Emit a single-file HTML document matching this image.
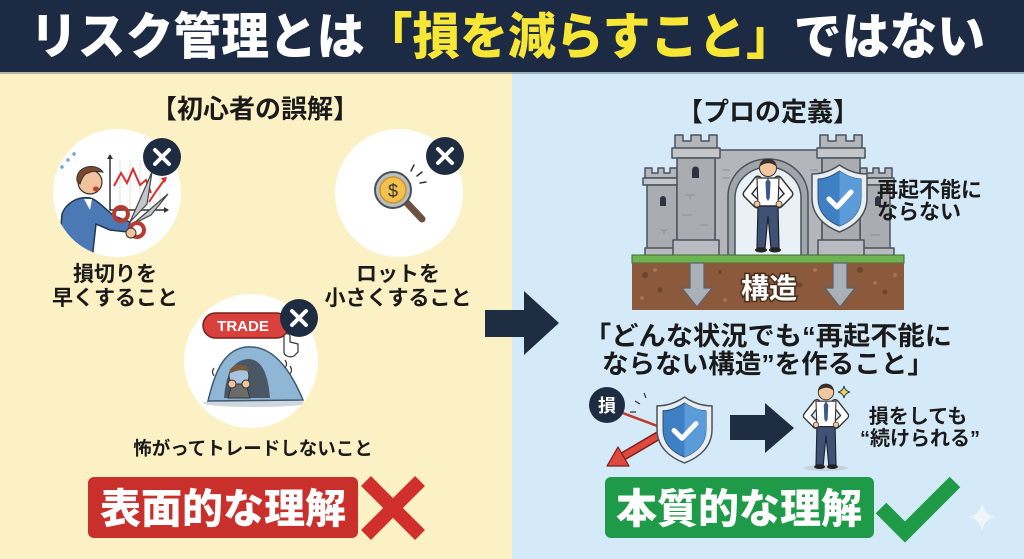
<!DOCTYPE html>
<html><head><meta charset="utf-8">
<style>
html,body{margin:0;padding:0;width:1024px;height:559px;overflow:hidden;background:#fcf1c5;}
svg{display:block;}
text{font-family:"Liberation Sans","Noto Sans CJK JP",sans-serif;font-weight:700;}
.heavy{font-weight:900;}
</style></head><body>
<svg width="1024" height="559" viewBox="0 0 1024 559" xmlns="http://www.w3.org/2000/svg">
<defs>
<clipPath id="c1"><circle cx="117" cy="193" r="64"/></clipPath>
<clipPath id="c3"><circle cx="251" cy="361" r="67"/></clipPath>
</defs>
<!-- backgrounds -->
<rect x="0" y="0" width="512" height="559" fill="#fcf1c5"/>
<rect x="512" y="0" width="512" height="559" fill="#d5eaf8"/>
<rect x="0" y="0" width="1024" height="72" fill="#1c2a43"/>
<rect x="0" y="72" width="1024" height="2" fill="#3a4a60" opacity=".35"/>

<!-- title -->
<text class="heavy" x="30" y="54" font-size="50" textLength="955" lengthAdjust="spacingAndGlyphs" fill="#ffffff">リスク管理とは<tspan fill="#f8e637">「損を減らすこと」</tspan>ではない</text>

<!-- LEFT PANEL -->
<text x="255" y="118" font-size="26" text-anchor="middle" fill="#1a1a1a">【初心者の誤解】</text>

<!-- circle 1 -->
<circle cx="117" cy="193" r="64" fill="#ffffff"/>
<g clip-path="url(#c1)">
  <g stroke="#dde1e6" stroke-width="1">
    <line x1="120" y1="160" x2="120" y2="210"/><line x1="130" y1="160" x2="130" y2="210"/>
    <line x1="140" y1="160" x2="140" y2="210"/><line x1="150" y1="160" x2="150" y2="210"/>
    <line x1="160" y1="160" x2="160" y2="210"/>
  </g>
  <path d="M110 155 V210 H168" stroke="#333" stroke-width="1.5" fill="none"/>
  <path d="M107 159 L110 154 L113 159 Z M164 207 L169 210 L164 213 Z" fill="#333"/>
  <polyline points="114,186 121,173 127,183 133,169 140,185 146,180 151,193" stroke="#d9302c" stroke-width="2" fill="none"/>
  <polyline points="149,202 157,190 165,179" stroke="#d9302c" stroke-width="2" fill="none"/>
  <path d="M161 178 L167 177 L165 183 Z" fill="#d9302c"/>
  <!-- person -->
  <path d="M58 260 L62 214 C66 203 78 196 90 198 C98 200 106 210 114 216 L130 222 L128 232 L110 230 L96 224 L92 260 Z" fill="#4a79b5" stroke="#24374f" stroke-width="1.5"/>
  <path d="M84 199 L92 199 L90 210 Z" fill="#fff"/>
  <circle cx="90" cy="182" r="12" fill="#f1c29b" stroke="#333" stroke-width="1.2"/>
  <path d="M77 181 C75 166 96 162 103 172 C99 172 94 170 88 173 C84 174 82 178 80 184 Z" fill="#7a4a2a" stroke="#333" stroke-width="1"/>
  <ellipse cx="96" cy="189" rx="3" ry="2.5" fill="#c0392b"/>
  <path d="M66 160 q2 -4 4 0 q-2 4 -4 0 M72 154 q2 -4 4 0 q-2 4 -4 0 M60 167 q2 -4 4 0 q-2 4 -4 0" fill="#6fa8dc"/>
  <!-- scissors -->
  <path d="M130 222 L152 172 L147 204 Z" fill="#c2c7cd" stroke="#444" stroke-width="1.2"/>
  <path d="M133 224 L168 194 L151 215 Z" fill="#c2c7cd" stroke="#444" stroke-width="1.2"/>
  <circle cx="121" cy="214" r="7" fill="none" stroke="#b93a32" stroke-width="4"/>
  <circle cx="137" cy="230" r="7" fill="none" stroke="#b93a32" stroke-width="4"/>
  <circle cx="131" cy="233" r="5" fill="#f1c29b" stroke="#333" stroke-width="1"/>
</g>
<circle cx="162" cy="157" r="19" fill="#1e2c42"/>
<path d="M155 150 L169 164 M169 150 L155 164" stroke="#fff" stroke-width="4" stroke-linecap="round"/>

<!-- circle 2 -->
<circle cx="399" cy="193" r="64" fill="#ffffff"/>
<line x1="406" y1="202" x2="422" y2="219" stroke="#6b5240" stroke-width="7" stroke-linecap="round"/>
<circle cx="393" cy="190" r="18" fill="#b9bec4" stroke="#4a4f57" stroke-width="2"/>
<circle cx="393" cy="190" r="13" fill="#f4c04e" stroke="#c9952a" stroke-width="1.5"/>
<text x="393" y="197" font-size="18" text-anchor="middle" fill="#333" style="font-weight:400">$</text>
<path d="M411 171 L414 165 M417 176 L422 172 M420 183 L426 182" stroke="#333" stroke-width="1.5" stroke-linecap="round"/>
<circle cx="445" cy="156" r="19" fill="#1e2c42"/>
<path d="M438 149 L452 163 M452 149 L438 163" stroke="#fff" stroke-width="4" stroke-linecap="round"/>

<text x="115" y="281" font-size="21" text-anchor="middle" fill="#1a1a1a">損切りを</text>
<text x="115" y="305" font-size="21" text-anchor="middle" fill="#1a1a1a">早くすること</text>
<text x="398" y="281" font-size="21" text-anchor="middle" fill="#1a1a1a">ロットを</text>
<text x="398" y="305" font-size="21" text-anchor="middle" fill="#1a1a1a">小さくすること</text>

<!-- circle 3 -->
<circle cx="251" cy="361" r="67" fill="#ffffff"/>
<g clip-path="url(#c3)">
  <ellipse cx="255" cy="403" rx="52" ry="4" fill="#cfd6dc"/>
  <path d="M208 401 C214 376 222 350 246 347 C270 345 288 364 303 400 Z" fill="#8fb6d4" stroke="#3d5a74" stroke-width="1.5"/>
  <path d="M224 398 C226 372 234 360 248 359 C262 359 268 374 270 398 Z" fill="#4a5866"/>
  <circle cx="239" cy="376" r="10" fill="#a9c4df" stroke="#333" stroke-width="1"/>
  <path d="M229 374 C229 362 249 362 249 372 C243 369 236 370 229 374 Z" fill="#7a5a3e"/>
  <path d="M228 398 L232 384 L246 384 L250 398 Z" fill="#6b6b6b" stroke="#333" stroke-width="1"/>
  <circle cx="232" cy="384" r="4" fill="#f1c29b" stroke="#333" stroke-width="1"/>
  <circle cx="246" cy="384" r="4" fill="#f1c29b" stroke="#333" stroke-width="1"/>
  <path d="M214 368 q-3 4 0 8 M285 360 q3 4 0 8 M290 366 q3 4 0 8" stroke="#333" stroke-width="1.2" fill="none"/>
</g>
<rect x="203" y="313" width="86" height="25" rx="12.5" fill="#d8413c" stroke="#7a1f1c" stroke-width="1.5"/>
<text x="243" y="331" font-size="15" fill="#fff" text-anchor="middle">TRADE</text>
<path d="M284 336 L284 352 C284 356 290 358 294 356 L298 352 L298 344 L290 342 L290 336 C290 333 284 333 284 336 Z" fill="#fff" stroke="#333" stroke-width="1.2"/>
<circle cx="299" cy="318" r="19" fill="#1e2c42"/>
<path d="M292 311 L306 325 M306 311 L292 325" stroke="#fff" stroke-width="4" stroke-linecap="round"/>

<text x="253" y="455" font-size="18.5" text-anchor="middle" fill="#1a1a1a">怖がってトレードしないこと</text>

<!-- red box -->
<rect x="88" y="477" width="270" height="61" rx="6" fill="#c9302c"/>
<text class="heavy" x="223" y="523" font-size="41" text-anchor="middle" fill="#fff">表面的な理解</text>
<path d="M366 481 L420 535 M420 481 L366 535" stroke="#d12f2c" stroke-width="14"/>

<!-- middle arrow -->
<polygon points="485,310 524,310 524,291 559,323 524,355 524,337 485,337" fill="#1f2d42"/>

<!-- RIGHT PANEL -->
<text x="768" y="121" font-size="26" text-anchor="middle" fill="#1a1a1a">【プロの定義】</text>

<!-- castle -->
<g stroke="#4b525b" stroke-width="1.5" stroke-linejoin="round">
  <path d="M860 178 V168 H867 V173 H873 V168 H879 V173 H885 V168 H892 V178 Z" fill="#b3b7bc"/>
  <rect x="858" y="178" width="36" height="7" fill="#c3c7cc"/>
  <rect x="860" y="185" width="30" height="65" fill="#a9adb2"/>
  <rect x="858" y="248" width="36" height="9" fill="#b8bcc1"/>
  <path d="M645 178 V168 H652 V173 H658 V168 H664 V173 H670 V168 H677 V178 Z" fill="#b3b7bc"/>
  <rect x="643" y="178" width="36" height="7" fill="#c3c7cc"/>
  <rect x="647" y="185" width="30" height="65" fill="#a9adb2"/>
  <rect x="645" y="248" width="34" height="9" fill="#b8bcc1"/>
  <rect x="715" y="150" width="107" height="107" fill="#b3b7bc"/>
  <path d="M728 257 V196 A40 37 0 0 1 808 196 V257 Z" fill="#a0a5ab"/>
  <path d="M735 257 V198 A33 31 0 0 1 801 198 V257 Z" fill="#e9f1f7"/>
  <path d="M675 150 V135 H683 V141 H691 V135 H701 V141 H709 V135 H717 V150 Z" fill="#b3b7bc"/>
  <rect x="672" y="148" width="48" height="10" fill="#c3c7cc"/>
  <rect x="677" y="158" width="38" height="84" fill="#a9adb2"/>
  <rect x="673" y="240" width="46" height="17" fill="#b8bcc1"/>
  <path d="M820 150 V135 H828 V141 H836 V135 H846 V141 H854 V135 H862 V150 Z" fill="#b3b7bc"/>
  <rect x="817" y="148" width="48" height="10" fill="#c3c7cc"/>
  <rect x="822" y="158" width="38" height="84" fill="#a9adb2"/>
  <rect x="818" y="240" width="46" height="17" fill="#b8bcc1"/>
</g>
<g fill="#2c3440">
  <path d="M692 178 V170 A3.5 3.5 0 0 1 699 170 V178 Z"/>
  <path d="M660 206 V199 A3 3 0 0 1 666 199 V206 Z"/>
  <path d="M875 206 V199 A3 3 0 0 1 881 199 V206 Z"/>
</g>
<g stroke="#8a9097" stroke-width="1" fill="none">
  <path d="M685 195 h10 M690 195 v4 M682 215 h10 M700 225 h8 M722 170 h8 M722 178 h8 M810 170 h8 M660 230 h8 M664 230 v4 M830 215 h10 M870 235 h10"/>
</g>
<!-- man in castle -->
<g transform="translate(768,158)">
  <path d="M-10 22 L-21 36 L-11 46" stroke="#333" stroke-width="9" fill="none" stroke-linejoin="round" stroke-linecap="round"/>
  <path d="M10 22 L21 36 L11 46" stroke="#333" stroke-width="9" fill="none" stroke-linejoin="round" stroke-linecap="round"/>
  <path d="M-10 22 L-21 36 L-11 46" stroke="#fff" stroke-width="6" fill="none" stroke-linejoin="round" stroke-linecap="round"/>
  <path d="M10 22 L21 36 L11 46" stroke="#fff" stroke-width="6" fill="none" stroke-linejoin="round" stroke-linecap="round"/>
  <path d="M-11 20 H11 L10 48 H-10 Z" fill="#fff" stroke="#333" stroke-width="1.2"/>
  <polygon points="0,20 2.5,24 1.8,40 0,43 -1.8,40 -2.5,24" fill="#3a5a85"/>
  <path d="M-10 48 H10 L11 90 H3 L0 58 L-3 90 H-11 Z" fill="#3d5275" stroke="#222" stroke-width="1.2"/>
  <ellipse cx="-7" cy="92" rx="6" ry="2.5" fill="#222"/>
  <ellipse cx="7" cy="92" rx="6" ry="2.5" fill="#222"/>
  <circle cx="-11" cy="46" r="3" fill="#f2c7a0" stroke="#333" stroke-width="0.8"/>
  <circle cx="11" cy="46" r="3" fill="#f2c7a0" stroke="#333" stroke-width="0.8"/>
  <circle cx="0" cy="10" r="8.5" fill="#f2c7a0" stroke="#333" stroke-width="1"/>
  <path d="M-8.5 9 C-9 -2 9 -2 8.5 9 C5 4 -4 4 -8.5 9 Z" fill="#3a2f2a"/>
</g>
<!-- castle shield -->
<g transform="translate(812,165)" stroke-linejoin="round">
  <path d="M27.5 0 C36 6 46 9 55 9 V33 C55 50 43 61 27.5 67 C12 61 0 50 0 33 V9 C9 9 19 6 27.5 0 Z" fill="#e9eef2" stroke="#4b525b" stroke-width="1.5"/>
  <path d="M27.5 6 C35 11 43 14 49 14 V33 C49 47 40 56 27.5 61 C15 56 6 47 6 33 V14 C12 14 20 11 27.5 6 Z" fill="#3f7fc4" stroke="#2a4f7a" stroke-width="1"/>
  <path d="M27.5 6 C35 11 43 14 49 14 V33 C49 47 40 56 27.5 61 Z" fill="#5b9bd8"/>
  <polyline points="17,34 25,42 39,27" fill="none" stroke="#fff" stroke-width="5" stroke-linecap="round" stroke-linejoin="round"/>
</g>
<text x="877" y="197" font-size="21" fill="#1a1a1a">再起不能に</text>
<text x="877" y="219" font-size="21" fill="#1a1a1a">ならない</text>
<!-- ground -->
<rect x="632" y="255" width="272" height="8" fill="#6db34f" stroke="#3d6b34" stroke-width="1"/>
<rect x="632" y="263" width="272" height="47" fill="#8b5a3c"/>
<g fill="#6e4530">
  <circle cx="645" cy="275" r="3"/><circle cx="660" cy="290" r="2.5"/><circle cx="720" cy="272" r="2"/>
  <circle cx="800" cy="285" r="2.5"/><circle cx="860" cy="270" r="3"/><circle cx="885" cy="292" r="2.5"/>
</g>
<g fill="#a8744f">
  <circle cx="655" cy="270" r="2"/><circle cx="642" cy="298" r="2"/><circle cx="725" cy="300" r="2"/>
  <circle cx="815" cy="270" r="2"/><circle cx="875" cy="283" r="2"/><circle cx="895" cy="275" r="2"/>
</g>
<g fill="#aab0b7" stroke="#5a616a" stroke-width="1.2" stroke-linejoin="round">
  <polygon points="690,263 704,263 704,288 712,288 697,307 682,288 690,288"/>
  <polygon points="833,263 847,263 847,288 855,288 840,307 825,288 833,288"/>
</g>
<text x="769" y="298" font-size="28" text-anchor="middle" fill="#fff" stroke="#4a2e1c" stroke-width="3" paint-order="stroke">構造</text>

<!-- quote -->
<text x="584" y="345" font-size="26" textLength="368" lengthAdjust="spacingAndGlyphs" fill="#1a1a1a">「どんな状況でも“再起不能に</text>
<text x="602" y="373" font-size="26" textLength="332" lengthAdjust="spacingAndGlyphs" fill="#1a1a1a">ならない構造”を作ること」</text>

<!-- bottom illustration -->
<line x1="620" y1="412" x2="668" y2="430" stroke="#c0392b" stroke-width="2.5"/>
<circle cx="607" cy="405" r="18" fill="#1e2c42"/>
<text x="607" y="412" font-size="18" text-anchor="middle" fill="#fff">損</text>
<path d="M640 404 l-5 -3 M646 398 l-2 -5 M636 412 l-6 0" stroke="#333" stroke-width="1.2"/>
<line x1="668" y1="430" x2="622" y2="457" stroke="#7a1f1c" stroke-width="9"/>
<line x1="668" y1="430" x2="622" y2="457" stroke="#e0483d" stroke-width="6"/>
<polygon points="607,466 629,466 618,447" fill="#e0483d" stroke="#7a1f1c" stroke-width="1.2" stroke-linejoin="round"/>
<g transform="translate(657,397) scale(1,0.985)" stroke-linejoin="round">
  <path d="M27.5 0 C36 6 46 9 55 9 V33 C55 50 43 61 27.5 67 C12 61 0 50 0 33 V9 C9 9 19 6 27.5 0 Z" fill="#e9eef2" stroke="#4b525b" stroke-width="1.5"/>
  <path d="M27.5 6 C35 11 43 14 49 14 V33 C49 47 40 56 27.5 61 C15 56 6 47 6 33 V14 C12 14 20 11 27.5 6 Z" fill="#3f7fc4" stroke="#2a4f7a" stroke-width="1"/>
  <path d="M27.5 6 C35 11 43 14 49 14 V33 C49 47 40 56 27.5 61 Z" fill="#5b9bd8"/>
  <polyline points="17,34 25,42 39,27" fill="none" stroke="#fff" stroke-width="5" stroke-linecap="round" stroke-linejoin="round"/>
</g>
<polygon points="730,415 765,415 765,403 794,428 765,453 765,440 730,440" fill="#1f2d42"/>
<ellipse cx="826" cy="468" rx="22" ry="3" fill="#c4d3df"/>
<g transform="translate(826,383) scale(0.91)">
  <path d="M-10 22 L-21 36 L-11 46" stroke="#333" stroke-width="9" fill="none" stroke-linejoin="round" stroke-linecap="round"/>
  <path d="M10 22 L21 36 L11 46" stroke="#333" stroke-width="9" fill="none" stroke-linejoin="round" stroke-linecap="round"/>
  <path d="M-10 22 L-21 36 L-11 46" stroke="#fff" stroke-width="6" fill="none" stroke-linejoin="round" stroke-linecap="round"/>
  <path d="M10 22 L21 36 L11 46" stroke="#fff" stroke-width="6" fill="none" stroke-linejoin="round" stroke-linecap="round"/>
  <path d="M-11 20 H11 L10 48 H-10 Z" fill="#fff" stroke="#333" stroke-width="1.2"/>
  <polygon points="0,20 2.5,24 1.8,40 0,43 -1.8,40 -2.5,24" fill="#3a5a85"/>
  <path d="M-10 48 H10 L11 90 H3 L0 58 L-3 90 H-11 Z" fill="#3d5275" stroke="#222" stroke-width="1.2"/>
  <ellipse cx="-7" cy="92" rx="6" ry="2.5" fill="#222"/>
  <ellipse cx="7" cy="92" rx="6" ry="2.5" fill="#222"/>
  <circle cx="-11" cy="46" r="3" fill="#f2c7a0" stroke="#333" stroke-width="0.8"/>
  <circle cx="11" cy="46" r="3" fill="#f2c7a0" stroke="#333" stroke-width="0.8"/>
  <circle cx="0" cy="10" r="8.5" fill="#f2c7a0" stroke="#333" stroke-width="1"/>
  <path d="M-8.5 9 C-9 -2 9 -2 8.5 9 C5 4 -4 4 -8.5 9 Z" fill="#3a2f2a"/>
</g>
<path d="M844 386 Q845 391 850 392 Q845 393 844 398 Q843 393 838 392 Q843 391 844 386 Z" fill="#f3d35a" stroke="#2b3a50" stroke-width="1"/>
<text x="918" y="423" font-size="20" text-anchor="middle" fill="#1a1a1a">損をしても</text>
<text x="920" y="445" font-size="20" text-anchor="middle" fill="#1a1a1a">“続けられる”</text>

<!-- green box -->
<rect x="605" y="477" width="269" height="61" rx="6" fill="#1f9a48"/>
<text class="heavy" x="739" y="523" font-size="41" text-anchor="middle" fill="#fff">本質的な理解</text>
<polyline points="881,508 905,532 955,482" fill="none" stroke="#1f9a47" stroke-width="15"/>
<path d="M982 503 Q984 515 996 517 Q984 519 982 531 Q980 519 968 517 Q980 515 982 503 Z" fill="#eef6fc"/>
</svg>
</body></html>
